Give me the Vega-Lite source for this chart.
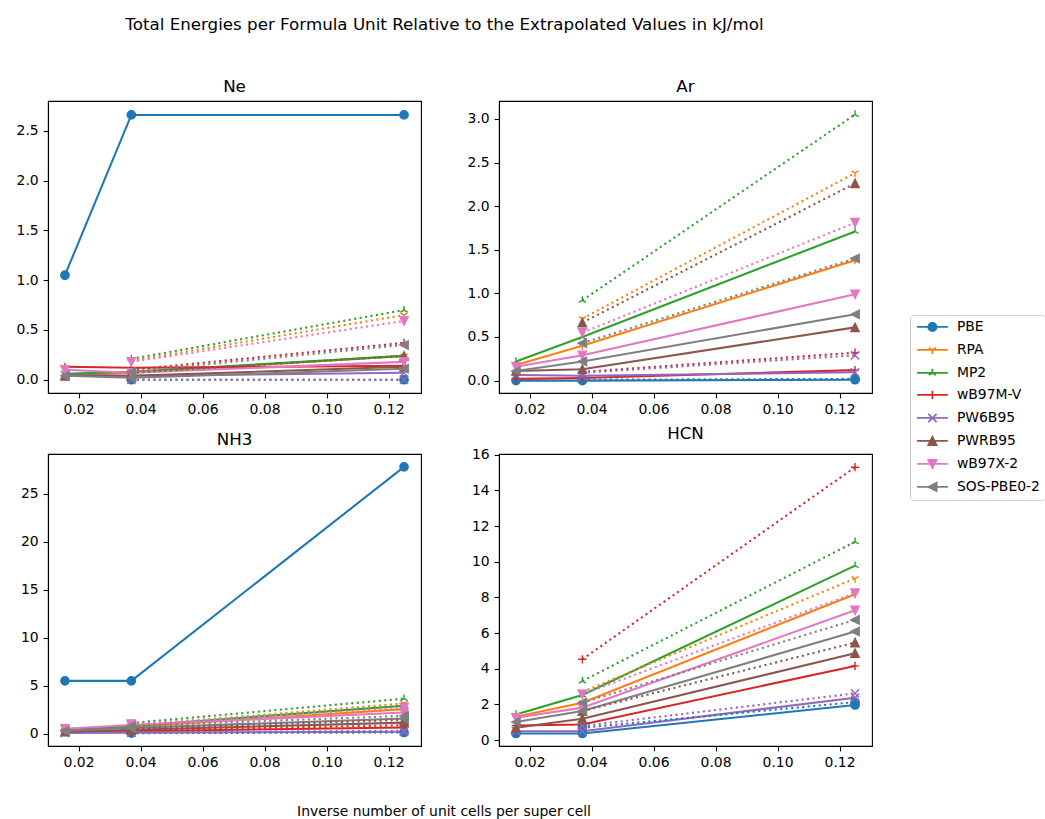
{
"$schema": "https://vega.github.io/schema/vega-lite/v6.json",
"padding": {"left": 15, "top": 17, "right": 0, "bottom": 0},
"background": "white",
"title": {"text": "Total Energies per Formula Unit Relative to the Extrapolated Values in kJ/mol", "fontSize": 16.7, "offset": 45, "anchor": "middle", "frame": "bounds", "dx": -86, "font": "DejaVu Sans", "fontWeight": "normal", "color": "black"},
"data": {"values": [
{"s":"Ne","m":"PBE","k":"solid","x":0.015625,"y":1.05},{"s":"Ne","m":"PBE","k":"solid","x":0.037037,"y":2.66},{"s":"Ne","m":"PBE","k":"solid","x":0.125,"y":2.66},{"s":"Ne","m":"PBE","k":"dotted","x":0.037037,"y":0.0},{"s":"Ne","m":"PBE","k":"dotted","x":0.125,"y":0.0},
{"s":"Ne","m":"RPA","k":"solid","x":0.015625,"y":0.05},{"s":"Ne","m":"RPA","k":"solid","x":0.037037,"y":0.07},{"s":"Ne","m":"RPA","k":"solid","x":0.125,"y":0.24},{"s":"Ne","m":"RPA","k":"dotted","x":0.037037,"y":0.19},{"s":"Ne","m":"RPA","k":"dotted","x":0.125,"y":0.65},
{"s":"Ne","m":"MP2","k":"solid","x":0.015625,"y":0.06},{"s":"Ne","m":"MP2","k":"solid","x":0.037037,"y":0.08},{"s":"Ne","m":"MP2","k":"solid","x":0.125,"y":0.24},{"s":"Ne","m":"MP2","k":"dotted","x":0.037037,"y":0.21},{"s":"Ne","m":"MP2","k":"dotted","x":0.125,"y":0.70},
{"s":"Ne","m":"wB97M-V","k":"solid","x":0.015625,"y":0.13},{"s":"Ne","m":"wB97M-V","k":"solid","x":0.037037,"y":0.12},{"s":"Ne","m":"wB97M-V","k":"solid","x":0.125,"y":0.14},{"s":"Ne","m":"wB97M-V","k":"dotted","x":0.037037,"y":0.10},{"s":"Ne","m":"wB97M-V","k":"dotted","x":0.125,"y":0.37},
{"s":"Ne","m":"PW6B95","k":"solid","x":0.015625,"y":0.05},{"s":"Ne","m":"PW6B95","k":"solid","x":0.037037,"y":0.04},{"s":"Ne","m":"PW6B95","k":"solid","x":0.125,"y":0.07},{"s":"Ne","m":"PW6B95","k":"dotted","x":0.037037,"y":0.0},{"s":"Ne","m":"PW6B95","k":"dotted","x":0.125,"y":0.0},
{"s":"Ne","m":"PWRB95","k":"solid","x":0.015625,"y":0.04},{"s":"Ne","m":"PWRB95","k":"solid","x":0.037037,"y":0.04},{"s":"Ne","m":"PWRB95","k":"solid","x":0.125,"y":0.13},{"s":"Ne","m":"PWRB95","k":"dotted","x":0.037037,"y":0.07},{"s":"Ne","m":"PWRB95","k":"dotted","x":0.125,"y":0.24},
{"s":"Ne","m":"wB97X-2","k":"solid","x":0.015625,"y":0.10},{"s":"Ne","m":"wB97X-2","k":"solid","x":0.037037,"y":0.07},{"s":"Ne","m":"wB97X-2","k":"solid","x":0.125,"y":0.18},{"s":"Ne","m":"wB97X-2","k":"dotted","x":0.037037,"y":0.18},{"s":"Ne","m":"wB97X-2","k":"dotted","x":0.125,"y":0.59},
{"s":"Ne","m":"SOS-PBE0-2","k":"solid","x":0.015625,"y":0.04},{"s":"Ne","m":"SOS-PBE0-2","k":"solid","x":0.037037,"y":0.02},{"s":"Ne","m":"SOS-PBE0-2","k":"solid","x":0.125,"y":0.11},{"s":"Ne","m":"SOS-PBE0-2","k":"dotted","x":0.037037,"y":0.08},{"s":"Ne","m":"SOS-PBE0-2","k":"dotted","x":0.125,"y":0.35},

{"s":"Ar","m":"PBE","k":"solid","x":0.015625,"y":0.0},{"s":"Ar","m":"PBE","k":"solid","x":0.037037,"y":0.0},{"s":"Ar","m":"PBE","k":"solid","x":0.125,"y":0.01},{"s":"Ar","m":"PBE","k":"dotted","x":0.037037,"y":0.01},{"s":"Ar","m":"PBE","k":"dotted","x":0.125,"y":0.02},
{"s":"Ar","m":"RPA","k":"solid","x":0.015625,"y":0.18},{"s":"Ar","m":"RPA","k":"solid","x":0.037037,"y":0.40},{"s":"Ar","m":"RPA","k":"solid","x":0.125,"y":1.38},{"s":"Ar","m":"RPA","k":"dotted","x":0.037037,"y":0.71},{"s":"Ar","m":"RPA","k":"dotted","x":0.125,"y":2.38},
{"s":"Ar","m":"MP2","k":"solid","x":0.015625,"y":0.22},{"s":"Ar","m":"MP2","k":"solid","x":0.037037,"y":0.50},{"s":"Ar","m":"MP2","k":"solid","x":0.125,"y":1.71},{"s":"Ar","m":"MP2","k":"dotted","x":0.037037,"y":0.92},{"s":"Ar","m":"MP2","k":"dotted","x":0.125,"y":3.05},
{"s":"Ar","m":"wB97M-V","k":"solid","x":0.015625,"y":0.02},{"s":"Ar","m":"wB97M-V","k":"solid","x":0.037037,"y":0.03},{"s":"Ar","m":"wB97M-V","k":"solid","x":0.125,"y":0.12},{"s":"Ar","m":"wB97M-V","k":"dotted","x":0.037037,"y":0.10},{"s":"Ar","m":"wB97M-V","k":"dotted","x":0.125,"y":0.32},
{"s":"Ar","m":"PW6B95","k":"solid","x":0.015625,"y":0.065},{"s":"Ar","m":"PW6B95","k":"solid","x":0.037037,"y":0.055},{"s":"Ar","m":"PW6B95","k":"solid","x":0.125,"y":0.095},{"s":"Ar","m":"PW6B95","k":"dotted","x":0.037037,"y":0.09},{"s":"Ar","m":"PW6B95","k":"dotted","x":0.125,"y":0.29},
{"s":"Ar","m":"PWRB95","k":"solid","x":0.015625,"y":0.11},{"s":"Ar","m":"PWRB95","k":"solid","x":0.037037,"y":0.13},{"s":"Ar","m":"PWRB95","k":"solid","x":0.125,"y":0.61},{"s":"Ar","m":"PWRB95","k":"dotted","x":0.037037,"y":0.665},{"s":"Ar","m":"PWRB95","k":"dotted","x":0.125,"y":2.26},
{"s":"Ar","m":"wB97X-2","k":"solid","x":0.015625,"y":0.16},{"s":"Ar","m":"wB97X-2","k":"solid","x":0.037037,"y":0.29},{"s":"Ar","m":"wB97X-2","k":"solid","x":0.125,"y":0.99},{"s":"Ar","m":"wB97X-2","k":"dotted","x":0.037037,"y":0.55},{"s":"Ar","m":"wB97X-2","k":"dotted","x":0.125,"y":1.81},
{"s":"Ar","m":"SOS-PBE0-2","k":"solid","x":0.015625,"y":0.11},{"s":"Ar","m":"SOS-PBE0-2","k":"solid","x":0.037037,"y":0.22},{"s":"Ar","m":"SOS-PBE0-2","k":"solid","x":0.125,"y":0.76},{"s":"Ar","m":"SOS-PBE0-2","k":"dotted","x":0.037037,"y":0.43},{"s":"Ar","m":"SOS-PBE0-2","k":"dotted","x":0.125,"y":1.40},

{"s":"NH3","m":"PBE","k":"solid","x":0.015625,"y":5.5},{"s":"NH3","m":"PBE","k":"solid","x":0.037037,"y":5.5},{"s":"NH3","m":"PBE","k":"solid","x":0.125,"y":27.8},{"s":"NH3","m":"PBE","k":"dotted","x":0.037037,"y":0.05},{"s":"NH3","m":"PBE","k":"dotted","x":0.125,"y":0.12},
{"s":"NH3","m":"RPA","k":"solid","x":0.015625,"y":0.35},{"s":"NH3","m":"RPA","k":"solid","x":0.037037,"y":0.7},{"s":"NH3","m":"RPA","k":"solid","x":0.125,"y":2.55},{"s":"NH3","m":"RPA","k":"dotted","x":0.037037,"y":0.85},{"s":"NH3","m":"RPA","k":"dotted","x":0.125,"y":3.15},
{"s":"NH3","m":"MP2","k":"solid","x":0.015625,"y":0.45},{"s":"NH3","m":"MP2","k":"solid","x":0.037037,"y":0.8},{"s":"NH3","m":"MP2","k":"solid","x":0.125,"y":2.9},{"s":"NH3","m":"MP2","k":"dotted","x":0.037037,"y":1.1},{"s":"NH3","m":"MP2","k":"dotted","x":0.125,"y":3.65},
{"s":"NH3","m":"wB97M-V","k":"solid","x":0.015625,"y":0.15},{"s":"NH3","m":"wB97M-V","k":"solid","x":0.037037,"y":0.25},{"s":"NH3","m":"wB97M-V","k":"solid","x":0.125,"y":0.63},{"s":"NH3","m":"wB97M-V","k":"dotted","x":0.037037,"y":0.35},{"s":"NH3","m":"wB97M-V","k":"dotted","x":0.125,"y":0.87},
{"s":"NH3","m":"PW6B95","k":"solid","x":0.015625,"y":0.08},{"s":"NH3","m":"PW6B95","k":"solid","x":0.037037,"y":0.1},{"s":"NH3","m":"PW6B95","k":"solid","x":0.125,"y":0.2},{"s":"NH3","m":"PW6B95","k":"dotted","x":0.037037,"y":0.12},{"s":"NH3","m":"PW6B95","k":"dotted","x":0.125,"y":0.3},
{"s":"NH3","m":"PWRB95","k":"solid","x":0.015625,"y":0.2},{"s":"NH3","m":"PWRB95","k":"solid","x":0.037037,"y":0.4},{"s":"NH3","m":"PWRB95","k":"solid","x":0.125,"y":1.15},{"s":"NH3","m":"PWRB95","k":"dotted","x":0.037037,"y":0.5},{"s":"NH3","m":"PWRB95","k":"dotted","x":0.125,"y":1.43},
{"s":"NH3","m":"wB97X-2","k":"solid","x":0.015625,"y":0.5},{"s":"NH3","m":"wB97X-2","k":"solid","x":0.037037,"y":0.9},{"s":"NH3","m":"wB97X-2","k":"solid","x":0.125,"y":2.2},{"s":"NH3","m":"wB97X-2","k":"dotted","x":0.037037,"y":1.0},{"s":"NH3","m":"wB97X-2","k":"dotted","x":0.125,"y":2.7},
{"s":"NH3","m":"SOS-PBE0-2","k":"solid","x":0.015625,"y":0.3},{"s":"NH3","m":"SOS-PBE0-2","k":"solid","x":0.037037,"y":0.6},{"s":"NH3","m":"SOS-PBE0-2","k":"solid","x":0.125,"y":1.57},{"s":"NH3","m":"SOS-PBE0-2","k":"dotted","x":0.037037,"y":0.8},{"s":"NH3","m":"SOS-PBE0-2","k":"dotted","x":0.125,"y":1.85},

{"s":"HCN","m":"PBE","k":"solid","x":0.015625,"y":0.37},{"s":"HCN","m":"PBE","k":"solid","x":0.037037,"y":0.37},{"s":"HCN","m":"PBE","k":"solid","x":0.125,"y":1.97},{"s":"HCN","m":"PBE","k":"dotted","x":0.037037,"y":0.69},{"s":"HCN","m":"PBE","k":"dotted","x":0.125,"y":2.13},
{"s":"HCN","m":"RPA","k":"solid","x":0.015625,"y":1.31},{"s":"HCN","m":"RPA","k":"solid","x":0.037037,"y":2.1},{"s":"HCN","m":"RPA","k":"solid","x":0.125,"y":8.18},{"s":"HCN","m":"RPA","k":"dotted","x":0.037037,"y":2.7},{"s":"HCN","m":"RPA","k":"dotted","x":0.125,"y":9.06},
{"s":"HCN","m":"MP2","k":"solid","x":0.015625,"y":1.44},{"s":"HCN","m":"MP2","k":"solid","x":0.037037,"y":2.53},{"s":"HCN","m":"MP2","k":"solid","x":0.125,"y":9.78},{"s":"HCN","m":"MP2","k":"dotted","x":0.037037,"y":3.31},{"s":"HCN","m":"MP2","k":"dotted","x":0.125,"y":11.12},
{"s":"HCN","m":"wB97M-V","k":"solid","x":0.015625,"y":0.82},{"s":"HCN","m":"wB97M-V","k":"solid","x":0.037037,"y":0.88},{"s":"HCN","m":"wB97M-V","k":"solid","x":0.125,"y":4.16},{"s":"HCN","m":"wB97M-V","k":"dotted","x":0.037037,"y":4.53},{"s":"HCN","m":"wB97M-V","k":"dotted","x":0.125,"y":15.3},
{"s":"HCN","m":"PW6B95","k":"solid","x":0.015625,"y":0.5},{"s":"HCN","m":"PW6B95","k":"solid","x":0.037037,"y":0.5},{"s":"HCN","m":"PW6B95","k":"solid","x":0.125,"y":2.38},{"s":"HCN","m":"PW6B95","k":"dotted","x":0.037037,"y":0.79},{"s":"HCN","m":"PW6B95","k":"dotted","x":0.125,"y":2.62},
{"s":"HCN","m":"PWRB95","k":"solid","x":0.015625,"y":0.69},{"s":"HCN","m":"PWRB95","k":"solid","x":0.037037,"y":1.2},{"s":"HCN","m":"PWRB95","k":"solid","x":0.125,"y":4.87},{"s":"HCN","m":"PWRB95","k":"dotted","x":0.037037,"y":1.63},{"s":"HCN","m":"PWRB95","k":"dotted","x":0.125,"y":5.47},
{"s":"HCN","m":"wB97X-2","k":"solid","x":0.015625,"y":1.25},{"s":"HCN","m":"wB97X-2","k":"solid","x":0.037037,"y":1.82},{"s":"HCN","m":"wB97X-2","k":"solid","x":0.125,"y":7.28},{"s":"HCN","m":"wB97X-2","k":"dotted","x":0.037037,"y":2.57},{"s":"HCN","m":"wB97X-2","k":"dotted","x":0.125,"y":8.24},
{"s":"HCN","m":"SOS-PBE0-2","k":"solid","x":0.015625,"y":1.01},{"s":"HCN","m":"SOS-PBE0-2","k":"solid","x":0.037037,"y":1.63},{"s":"HCN","m":"SOS-PBE0-2","k":"solid","x":0.125,"y":6.09},{"s":"HCN","m":"SOS-PBE0-2","k":"dotted","x":0.037037,"y":2.1},{"s":"HCN","m":"SOS-PBE0-2","k":"dotted","x":0.125,"y":6.74}
]},
"vconcat": [
{
"title": {"text": "Inverse number of unit cells per super cell", "orient": "bottom", "fontSize": 13.9, "offset": 33, "anchor": "middle", "frame": "bounds", "font": "DejaVu Sans", "fontWeight": "normal", "color": "black"},
"spacing": 6,
"vconcat": [
{"spacing": 44, "hconcat": [
{
"title": {"text": "Ne", "fontSize": 16.7, "offset": 5},
"width": 373, "height": 292,
"transform": [{"filter": "datum.s == 'Ne'"}],
"encoding": {
"x": {"field": "x", "type": "quantitative", "scale": {"domain": [0.010156, 0.130469], "nice": false, "zero": false}, "axis": {"values": [0.02,0.04,0.06,0.08,0.10,0.12], "format": ".2f", "title": null}},
"y": {"field": "y", "type": "quantitative", "scale": {"domain": [-0.133, 2.80], "nice": false, "zero": false}, "axis": {"values": [0,0.5,1,1.5,2,2.5], "format": ".1f", "title": null}}
},
"layer": [
{"transform": [{"filter": "datum.k == 'solid'"}], "mark": {"type": "line", "strokeWidth": 2.08}, "encoding": {"stroke": {"field": "m", "type": "nominal"}, "order": {"field": "x", "type": "quantitative"}}},
{"transform": [{"filter": "datum.k == 'dotted'"}], "mark": {"type": "line", "strokeWidth": 2.08, "strokeDash": [2.08, 3.44], "strokeCap": "butt"}, "encoding": {"stroke": {"field": "m", "type": "nominal"}, "order": {"field": "x", "type": "quantitative"}}},
{"mark": {"type": "point", "filled": true, "size": 69, "strokeWidth": 1.4, "opacity": 1}, "encoding": {
"fill": {"field": "m", "type": "nominal", "scale": {"domain": ["PBE","RPA","MP2","wB97M-V","PW6B95","PWRB95","wB97X-2","SOS-PBE0-2"], "range": ["#1f77b4","#ff7f0e","#2ca02c","#d62728","#9467bd","#8c564b","#e377c2","#7f7f7f"]},
  "legend": {"title": null, "orient": "none", "legendX": 862, "legendY": 214, "symbolSize": 69, "symbolStrokeWidth": 1.8, "labelFontSize": 13.9, "labelFont": "DejaVu Sans", "labelColor": "black", "padding": 5, "rowPadding": 7, "symbolOffset": 10.5, "labelOffset": 17.5, "strokeColor": "#cccccc", "fillColor": "white", "cornerRadius": 3,
   "encoding": {"symbols": {
    "shape": {"value": {"signal": "['M-3.7,0L3.7,0M-1,0A1,1,0,1,1,1,0A1,1,0,1,1,-1,0Z','M-3.7,0L3.7,0M0,0L0,1M0,0L-0.866,-0.5M0,0L0.866,-0.5','M-3.7,0L3.7,0M0,0L0,-1M0,0L-0.866,0.5M0,0L0.866,0.5','M-3.7,0L3.7,0M0,-1L0,1','M-3.7,0L3.7,0M-1,-1L1,1M-1,1L1,-1','M-3.7,0L3.7,0M0,-1L1,1L-1,1Z','M-3.7,0L3.7,0M0,1L1,-1L-1,-1Z','M-3.7,0L3.7,0M-1,0L1,-1L1,1Z'][indexof(['PBE','RPA','MP2','wB97M-V','PW6B95','PWRB95','wB97X-2','SOS-PBE0-2'], datum.value)]"}},
    "strokeWidth": {"value": 1.8}
   }}}},
"stroke": {"field": "m", "type": "nominal", "scale": {"domain": ["PBE","RPA","MP2","wB97M-V","PW6B95","PWRB95","wB97X-2","SOS-PBE0-2"], "range": ["#1f77b4","#ff7f0e","#2ca02c","#d62728","#9467bd","#8c564b","#e377c2","#7f7f7f"]},
  "legend": {"title": null, "orient": "none", "legendX": 862, "legendY": 214, "symbolSize": 69, "symbolStrokeWidth": 1.8, "labelFontSize": 13.9, "labelFont": "DejaVu Sans", "labelColor": "black", "padding": 5, "rowPadding": 7, "symbolOffset": 10.5, "labelOffset": 17.5, "strokeColor": "#cccccc", "fillColor": "white", "cornerRadius": 3,
   "encoding": {"symbols": {
    "shape": {"value": {"signal": "['M-3.7,0L3.7,0M-1,0A1,1,0,1,1,1,0A1,1,0,1,1,-1,0Z','M-3.7,0L3.7,0M0,0L0,1M0,0L-0.866,-0.5M0,0L0.866,-0.5','M-3.7,0L3.7,0M0,0L0,-1M0,0L-0.866,0.5M0,0L0.866,0.5','M-3.7,0L3.7,0M0,-1L0,1','M-3.7,0L3.7,0M-1,-1L1,1M-1,1L1,-1','M-3.7,0L3.7,0M0,-1L1,1L-1,1Z','M-3.7,0L3.7,0M0,1L1,-1L-1,-1Z','M-3.7,0L3.7,0M-1,0L1,-1L1,1Z'][indexof(['PBE','RPA','MP2','wB97M-V','PW6B95','PWRB95','wB97X-2','SOS-PBE0-2'], datum.value)]"}},
    "strokeWidth": {"value": 1.8}
   }}}},
"shape": {"field": "m", "type": "nominal", "scale": {"domain": ["SOS-PBE0-2","wB97X-2","PWRB95","PW6B95","wB97M-V","MP2","RPA","PBE"], "range": ["M-1,0L1,-1L1,1Z","M0,1L1,-1L-1,-1Z","M0,-1L1,1L-1,1Z","M-1,-1L1,1M-1,1L1,-1","M-1,0L1,0M0,-1L0,1","M0,0L0,-1M0,0L-0.866,0.5M0,0L0.866,0.5","M0,0L0,1M0,0L-0.866,-0.5M0,0L0.866,-0.5","circle"]}, "legend": null}
}}
]
},
{
"title": {"text": "Ar", "fontSize": 16.7, "offset": 5},
"width": 373, "height": 292,
"transform": [{"filter": "datum.s == 'Ar'"}],
"encoding": {
"x": {"field": "x", "type": "quantitative", "scale": {"domain": [0.010156, 0.130469], "nice": false, "zero": false}, "axis": {"values": [0.02,0.04,0.06,0.08,0.10,0.12], "format": ".2f", "title": null}},
"y": {"field": "y", "type": "quantitative", "scale": {"domain": [-0.142, 3.205], "nice": false, "zero": false}, "axis": {"values": [0,0.5,1,1.5,2,2.5,3], "format": ".1f", "title": null}}
},
"layer": [
{"transform": [{"filter": "datum.k == 'solid'"}], "mark": {"type": "line", "strokeWidth": 2.08}, "encoding": {"stroke": {"field": "m", "type": "nominal"}, "order": {"field": "x", "type": "quantitative"}}},
{"transform": [{"filter": "datum.k == 'dotted'"}], "mark": {"type": "line", "strokeWidth": 2.08, "strokeDash": [2.08, 3.44], "strokeCap": "butt"}, "encoding": {"stroke": {"field": "m", "type": "nominal"}, "order": {"field": "x", "type": "quantitative"}}},
{"mark": {"type": "point", "filled": true, "size": 69, "strokeWidth": 1.4, "opacity": 1}, "encoding": {
"fill": {"field": "m", "type": "nominal"},
"stroke": {"field": "m", "type": "nominal"},
"shape": {"field": "m", "type": "nominal", "legend": null}
}}
]
}
]},
{"spacing": 44, "hconcat": [
{
"title": {"text": "NH3", "fontSize": 16.7, "offset": 5},
"width": 373, "height": 292,
"transform": [{"filter": "datum.s == 'NH3'"}],
"encoding": {
"x": {"field": "x", "type": "quantitative", "scale": {"domain": [0.010156, 0.130469], "nice": false, "zero": false}, "axis": {"values": [0.02,0.04,0.06,0.08,0.10,0.12], "format": ".2f", "title": null}},
"y": {"field": "y", "type": "quantitative", "scale": {"domain": [-1.29, 29.14], "nice": false, "zero": false}, "axis": {"values": [0,5,10,15,20,25], "format": "d", "title": null}}
},
"layer": [
{"transform": [{"filter": "datum.k == 'solid'"}], "mark": {"type": "line", "strokeWidth": 2.08}, "encoding": {"stroke": {"field": "m", "type": "nominal"}, "order": {"field": "x", "type": "quantitative"}}},
{"transform": [{"filter": "datum.k == 'dotted'"}], "mark": {"type": "line", "strokeWidth": 2.08, "strokeDash": [2.08, 3.44], "strokeCap": "butt"}, "encoding": {"stroke": {"field": "m", "type": "nominal"}, "order": {"field": "x", "type": "quantitative"}}},
{"mark": {"type": "point", "filled": true, "size": 69, "strokeWidth": 1.4, "opacity": 1}, "encoding": {
"fill": {"field": "m", "type": "nominal"},
"stroke": {"field": "m", "type": "nominal"},
"shape": {"field": "m", "type": "nominal", "legend": null}
}}
]
},
{
"title": {"text": "HCN", "fontSize": 16.7, "offset": 5},
"width": 373, "height": 292,
"transform": [{"filter": "datum.s == 'HCN'"}],
"encoding": {
"x": {"field": "x", "type": "quantitative", "scale": {"domain": [0.010156, 0.130469], "nice": false, "zero": false}, "axis": {"values": [0.02,0.04,0.06,0.08,0.10,0.12], "format": ".2f", "title": null}},
"y": {"field": "y", "type": "quantitative", "scale": {"domain": [-0.33, 16.04], "nice": false, "zero": false}, "axis": {"values": [0,2,4,6,8,10,12,14,16], "format": "d", "title": null}}
},
"layer": [
{"transform": [{"filter": "datum.k == 'solid'"}], "mark": {"type": "line", "strokeWidth": 2.08}, "encoding": {"stroke": {"field": "m", "type": "nominal"}, "order": {"field": "x", "type": "quantitative"}}},
{"transform": [{"filter": "datum.k == 'dotted'"}], "mark": {"type": "line", "strokeWidth": 2.08, "strokeDash": [2.08, 3.44], "strokeCap": "butt"}, "encoding": {"stroke": {"field": "m", "type": "nominal"}, "order": {"field": "x", "type": "quantitative"}}},
{"mark": {"type": "point", "filled": true, "size": 69, "strokeWidth": 1.4, "opacity": 1}, "encoding": {
"fill": {"field": "m", "type": "nominal"},
"stroke": {"field": "m", "type": "nominal"},
"shape": {"field": "m", "type": "nominal", "legend": null}
}}
]
}
]}
]
}
],
"config": {
"font": "DejaVu Sans",
"view": {"stroke": "black", "strokeWidth": 1.1},
"axis": {"grid": false, "labelFont": "DejaVu Sans", "labelFontSize": 13.9, "labelColor": "black", "tickColor": "black", "tickSize": 4.9, "tickWidth": 1.1, "domainColor": "black", "domainWidth": 1.1, "labelPadding": 4.9, "labelFlush": false},
"axisY": {"minExtent": 32, "maxExtent": 32},
"axisX": {"minExtent": 25, "maxExtent": 25},
"title": {"font": "DejaVu Sans", "fontSize": 16.7, "fontWeight": "normal", "color": "black"}
}
}
